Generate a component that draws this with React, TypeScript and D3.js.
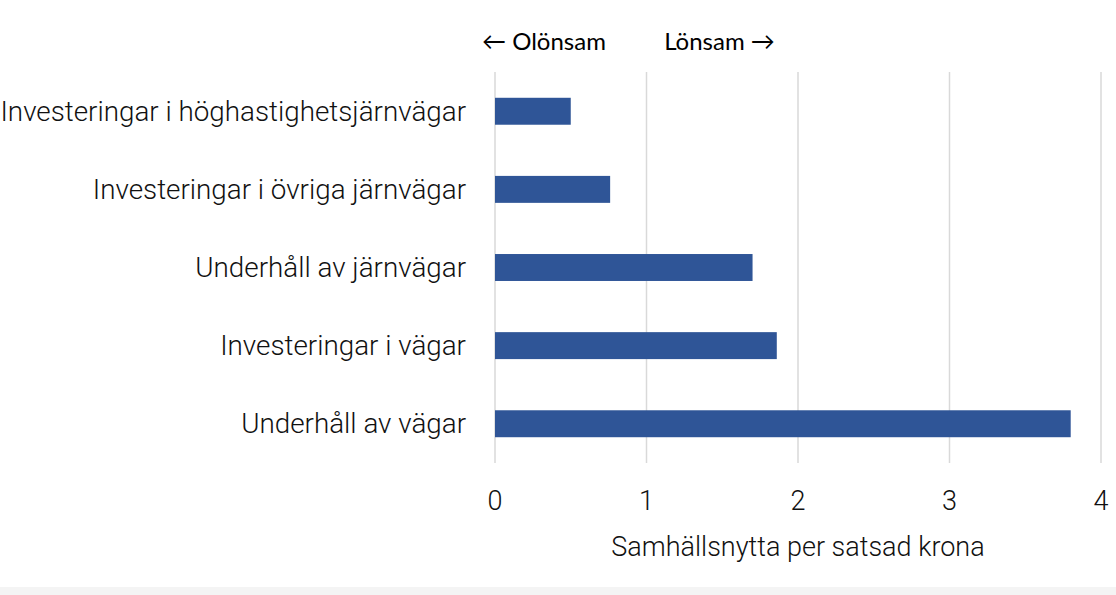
import React from "react";
import * as d3 from "d3";

const categories = [
  "Investeringar i höghastighetsjärnvägar",
  "Investeringar i övriga järnvägar",
  "Underhåll av järnvägar",
  "Investeringar i vägar",
  "Underhåll av vägar",
];
const values = [0.5, 0.76, 1.7, 1.86, 3.8];
const xTicks = [0, 1, 2, 3, 4];
const axisTitle = "Samhällsnytta per satsad krona";
const leftNote = "← Olönsam";
const rightNote = "Lönsam →";

export default function App() {
  const W = 1116;
  const H = 595;
  const x = d3.scaleLinear().domain([0, 4]).range([495, 1101]);
  const y = d3.scaleBand<string>().domain(categories).range([72, 463]).paddingInner(0.655).paddingOuter(0.33);
  const font = "Roboto, 'Noto Sans', sans-serif";
  return (
    <svg
      width={W}
      height={H}
      style={{ position: "absolute", left: 0, top: 0, background: "#fff" }}
      fontFamily={font}
    >
      <rect x={0} y={587} width={W} height={H - 587} fill="#f4f4f4" />
      {xTicks.map((t) => (
        <line key={t} x1={x(t)} x2={x(t)} y1={72} y2={463} stroke="#d9d9d9" strokeWidth={1.5} />
      ))}
      {categories.map((c, i) => (
        <rect
          key={c}
          x={x(0)}
          y={y(c)}
          width={x(values[i]) - x(0)}
          height={y.bandwidth()}
          fill="#2f5597"
        />
      ))}
      {categories.map((c) => (
        <text
          key={c}
          x={466}
          y={(y(c) as number) + y.bandwidth() / 2}
          textAnchor="end"
          dominantBaseline="central"
          fontSize={27.8}
          fontWeight={300}
          fill="#111"
        >
          {c}
        </text>
      ))}
      {xTicks.map((t) => (
        <text key={t} x={x(t)} y={501} textAnchor="middle" dominantBaseline="central" fontSize={27} fontWeight={300} fill="#111">
          {t}
        </text>
      ))}
      <text x={(x(0) + x(4)) / 2} y={547} textAnchor="middle" dominantBaseline="central" fontSize={27} fontWeight={300} fill="#111">
        {axisTitle}
      </text>
      <text x={544} y={40} textAnchor="middle" dominantBaseline="central" fontSize={24} fontWeight={400} fill="#000" fontFamily="Lato, 'Open Sans', sans-serif">
        {leftNote}
      </text>
      <text x={719.5} y={40} textAnchor="middle" dominantBaseline="central" fontSize={24} fontWeight={400} fill="#000" fontFamily="Lato, 'Open Sans', sans-serif">
        {rightNote}
      </text>
    </svg>
  );
}
